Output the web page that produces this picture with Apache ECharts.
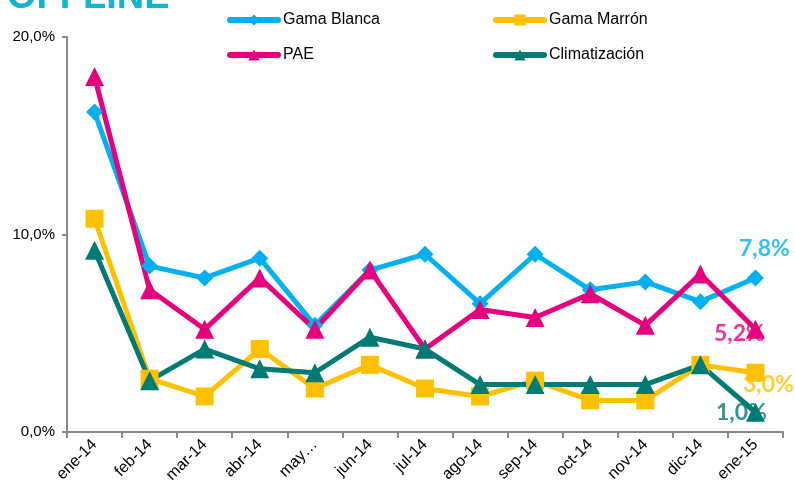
<!DOCTYPE html>
<html>
<head>
<meta charset="utf-8">
<script src="https://cdn.jsdelivr.net/npm/echarts@6/dist/echarts.min.js"></script>
<style>
  html, body { margin: 0; padding: 0; background: #fff; }
  #chart { width: 795px; height: 500px; }
</style>
</head>
<body>
<div id="chart"></div>
<script>
  // months shown on the x axis
  const months = ['ene-14', 'feb-14', 'mar-14', 'abr-14', 'may…', 'jun-14', 'jul-14',
    'ago-14', 'sep-14', 'oct-14', 'nov-14', 'dic-14', 'ene-15']
  // share in % per month
  const gamaBlanca = [16.2, 8.4, 7.8, 8.8, 5.4, 8.2, 9.0, 6.5, 9.0, 7.2, 7.6, 6.6, 7.8]
  const gamaMarron = [10.8, 2.7, 1.8, 4.2, 2.2, 3.4, 2.2, 1.8, 2.6, 1.6, 1.6, 3.4, 3.0]
  const pae = [18.0, 7.2, 5.2, 7.8, 5.2, 8.2, 4.2, 6.2, 5.8, 7.0, 5.4, 8.0, 5.2]
  const climatizacion = [9.2, 2.6, 4.2, 3.2, 3.0, 4.8, 4.2, 2.4, 2.4, 2.4, 2.4, 3.4, 1.0]
  const yTicks = [0, 10, 20]

  const fmt = v => v.toFixed(1).replace('.', ',') + '%'
  const last = arr => arr[arr.length - 1]

  let myChart = echarts.init(document.getElementById('chart'))

  function lineSeries (name, data, color, symbol, size) {
    return {
      name: name,
      type: 'line',
      data: data,
      z: 3,
      symbol: symbol,
      symbolSize: size,
      showAllSymbol: true,
      lineStyle: { color: color, width: 5 },
      itemStyle: { color: color },
      emphasis: { disabled: true }
    }
  }

  // end labels sit under the markers, so they live in their own low series
  function endLabel (arr, color, offset) {
    return {
      type: 'scatter',
      z: 1,
      silent: true,
      symbolSize: 2,
      itemStyle: { color: 'rgba(0,0,0,0)' },
      data: [[months[months.length - 1], last(arr)]],
      labelLayout: { hideOverlap: false },
      label: {
        show: true,
        position: [1 + offset[0], 1 + offset[1]],
        align: 'center',
        verticalAlign: 'middle',
        formatter: () => fmt(last(arr)),
        color: color,
        fontFamily: 'Lato',
        fontWeight: 'bold',
        fontSize: 23
      }
    }
  }

  function legendAt (name, left, top) {
    return {
      data: [name],
      left: left,
      top: top,
      itemWidth: 48,
      itemHeight: 14,
      itemGap: 0,
      padding: 0,
      selectedMode: false,
      lineStyle: { width: 6, cap: 'round' },
      textStyle: { fontFamily: 'Liberation Sans', fontSize: 16, color: '#000', padding: [0, 0, 0, 0] }
    }
  }

  const option = {
    animation: false,
    title: {
      text: 'OFFLINE',
      left: 2,
      top: -26,
      textStyle: { fontFamily: 'Liberation Sans', fontWeight: 'bold', fontSize: 38, color: '#14B4CC' }
    },
    legend: [
      legendAt('Gama Blanca', 227, 12),
      legendAt('Gama Marrón', 493, 12),
      legendAt('PAE', 227, 47),
      legendAt('Climatización', 493, 47)
    ],
    grid: { left: 67, right: 12, top: 37, bottom: 68 },
    xAxis: {
      type: 'category',
      data: months,
      boundaryGap: true,
      axisLine: { lineStyle: { color: '#888', width: 2 } },
      axisTick: { show: true, length: 6, lineStyle: { color: '#888', width: 2 } },
      axisLabel: {
        rotate: 45,
        interval: 0,
        margin: 10,
        fontFamily: 'Liberation Sans',
        fontSize: 16,
        color: '#000'
      },
      splitLine: { show: false }
    },
    yAxis: {
      type: 'value',
      min: yTicks[0],
      max: yTicks[yTicks.length - 1],
      interval: 10,
      axisLine: { show: true, lineStyle: { color: '#888', width: 2 } },
      axisTick: { show: true, length: 5, lineStyle: { color: '#888', width: 2 } },
      axisLabel: {
        formatter: v => fmt(v),
        fontFamily: 'Liberation Sans',
        fontSize: 15,
        color: '#000',
        margin: 12
      },
      splitLine: { show: false }
    },
    series: [
      lineSeries('Gama Blanca', gamaBlanca, '#00B0F0', 'diamond', 17),
      lineSeries('Gama Marrón', gamaMarron, '#FFC000', 'rect', 18),
      lineSeries('PAE', pae, '#E6007E', 'triangle', 19),
      lineSeries('Climatización', climatizacion, '#007A74', 'triangle', 19),
      endLabel(gamaBlanca, '#00B0F0', [9, -29]),
      endLabel(pae, '#E6007E', [-16, 4]),
      endLabel(gamaMarron, '#FFC000', [13, 12]),
      endLabel(climatizacion, '#007A74', [-14, 0])
    ]
  }
  myChart.setOption(option)
</script>
</body>
</html>
